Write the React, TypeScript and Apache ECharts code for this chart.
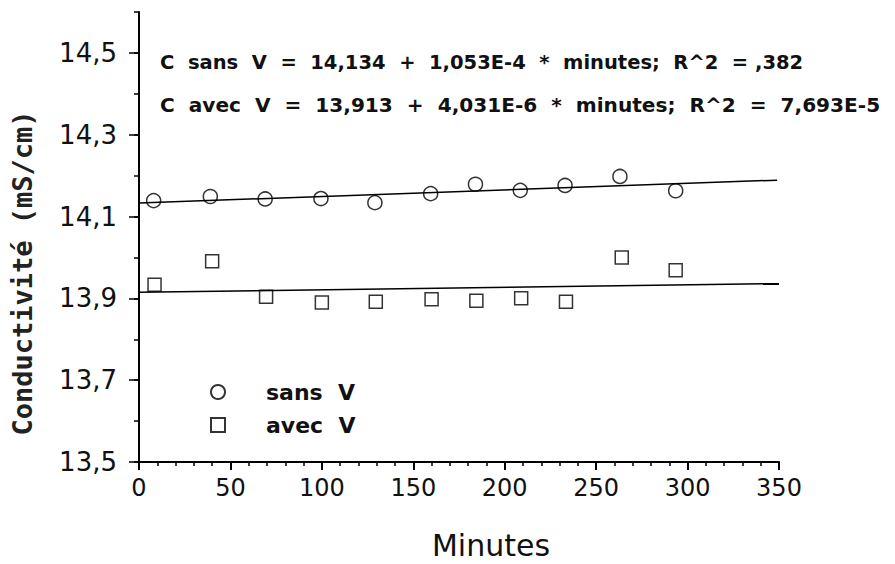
import React, { useEffect, useRef } from "react";
import * as echarts from "echarts";

// ---- data ----
const sansMinutes = [8, 39, 69, 99.5, 129, 159.5, 184, 208.5, 233, 263, 293.5];
const sansValues = [14.139, 14.149, 14.143, 14.144, 14.134, 14.156, 14.179, 14.164, 14.176, 14.198, 14.163];
const avecMinutes = [8.5, 40, 69.5, 100, 129.5, 160, 184.5, 209, 233.5, 264, 293.5];
const avecValues = [13.933, 13.991, 13.904, 13.89, 13.892, 13.898, 13.894, 13.9, 13.892, 14.0, 13.969];
const sansFitX = [0, 349];
const sansFitY = [14.133, 14.189];
const avecFitX = [0, 350];
const avecFitY = [13.915, 13.936];
const xTicks = [0, 50, 100, 150, 200, 250, 300, 350];
const yTicks = [13.5, 13.7, 13.9, 14.1, 14.3, 14.5];
const yMax = 14.6;
const seriesNames = ["sans\u00a0\u00a0V", "avec\u00a0\u00a0V"];
const S = "\u00a0\u00a0";
const equations = [
  ["C", "sans", "V", "=", "14,134", "+", "1,053E-4", "*", "minutes;", "R^2", "=\u00a0,382"].join(S),
  ["C", "avec", "V", "=", "13,913", "+", "4,031E-6", "*", "minutes;", "R^2", "=", "7,693E-5"].join(S),
];
const yTitle = "Conductivité (mS/cm)";
const xTitle = "Minutes";

const zip = (a: number[], b: number[]) => a.map((v, i) => [v, b[i]]);

export default function App() {
  const ref = useRef<HTMLDivElement>(null);
  useEffect(() => {
    if (!ref.current) return;
    const chart = echarts.init(ref.current, undefined, { renderer: "svg" });
    const yInterval = +(yTicks[1] - yTicks[0]).toFixed(3);
    const fmt = (v: number) => {
      const ok = yTicks.some((t) => Math.abs(t - v) < 1e-6);
      return ok ? v.toFixed(1).replace(".", ",") : "";
    };
    const markerStyle = { color: "transparent", borderColor: "#000", borderWidth: 1.5 };
    chart.setOption({
      animation: false,
      backgroundColor: "#fff",
      grid: { left: 139, right: 116, top: 12, bottom: 102 },
      xAxis: {
        type: "value",
        min: xTicks[0],
        max: xTicks[xTicks.length - 1],
        interval: xTicks[1] - xTicks[0],
        axisLine: { show: true, lineStyle: { color: "#000", width: 2 } },
        axisTick: { show: true, length: 8, lineStyle: { color: "#000", width: 2 } },
        minorTick: { show: true, splitNumber: 5, length: 4, lineStyle: { color: "#000", width: 1.5 } },
        splitLine: { show: false },
        axisLabel: { color: "#111", fontFamily: "DejaVu Sans", fontSize: 24, margin: 14 },
      },
      yAxis: [
        {
          type: "value",
          position: "left",
          min: yTicks[0],
          max: yMax,
          interval: yInterval / 2,
          axisLine: { show: true, lineStyle: { color: "#000", width: 2 } },
          axisTick: { show: true, length: 5, lineStyle: { color: "#000", width: 1.5 } },
          splitLine: { show: false },
          axisLabel: { show: false },
        },
        {
          type: "value",
          position: "left",
          offset: 0,
          min: yTicks[0],
          max: yMax,
          interval: yInterval,
          axisLine: { show: false },
          axisTick: { show: true, length: 10, lineStyle: { color: "#000", width: 1.5 } },
          splitLine: { show: false },
          axisLabel: {
            color: "#111",
            fontFamily: "DejaVu Sans",
            fontSize: 26,
            margin: 22,
            formatter: fmt,
            showMaxLabel: false,
          },
        },
      ],
      legend: {
        orient: "vertical",
        left: 205,
        top: 376,
        itemWidth: 14,
        itemHeight: 14,
        itemGap: 11,
        data: seriesNames,
        textStyle: {
          color: "#111",
          fontFamily: "DejaVu Sans",
          fontWeight: "bold",
          fontSize: 22,
          lineHeight: 22,
          padding: [0, 0, 0, 36],
        },
      },
      graphic: [
        {
          type: "text",
          left: 160,
          top: 52,
          style: { text: equations[0], fontFamily: "DejaVu Sans", fontWeight: "bold", fontSize: 19.5, fill: "#111" },
        },
        {
          type: "text",
          left: 160,
          top: 95,
          style: { text: equations[1], fontFamily: "DejaVu Sans", fontWeight: "bold", fontSize: 20.1, fill: "#111" },
        },
        {
          type: "text",
          x: 22,
          y: 273,
          rotation: Math.PI / 2,
          style: {
            text: yTitle,
            fontFamily: "DejaVu Sans Mono",
            fontWeight: "bold",
            fontSize: 27,
            fill: "#222",
            align: "center",
            verticalAlign: "middle",
          },
        },
        {
          type: "text",
          x: 491,
          y: 545,
          style: {
            text: xTitle,
            fontFamily: "DejaVu Sans",
            fontSize: 30,
            fill: "#111",
            align: "center",
            verticalAlign: "middle",
          },
        },
      ],
      series: [
        {
          name: seriesNames[0],
          type: "scatter",
          symbol: "circle",
          symbolSize: 14,
          itemStyle: markerStyle,
          data: zip(sansMinutes, sansValues),
          z: 3,
        },
        {
          name: seriesNames[1],
          type: "scatter",
          symbol: "rect",
          symbolSize: 13,
          itemStyle: markerStyle,
          data: zip(avecMinutes, avecValues),
          z: 3,
        },
        {
          name: "fitSans",
          type: "line",
          showSymbol: false,
          symbol: "none",
          lineStyle: { color: "#000", width: 1.5 },
          data: zip(sansFitX, sansFitY),
          z: 2,
        },
        {
          name: "fitAvec",
          type: "line",
          showSymbol: false,
          symbol: "none",
          lineStyle: { color: "#000", width: 1.5 },
          data: zip(avecFitX, avecFitY),
          z: 2,
        },
      ],
    });
    return () => chart.dispose();
  }, []);
  return (
    <div
      ref={ref}
      style={{ position: "absolute", left: 0, top: 0, width: 895, height: 564, background: "#fff" }}
    />
  );
}
